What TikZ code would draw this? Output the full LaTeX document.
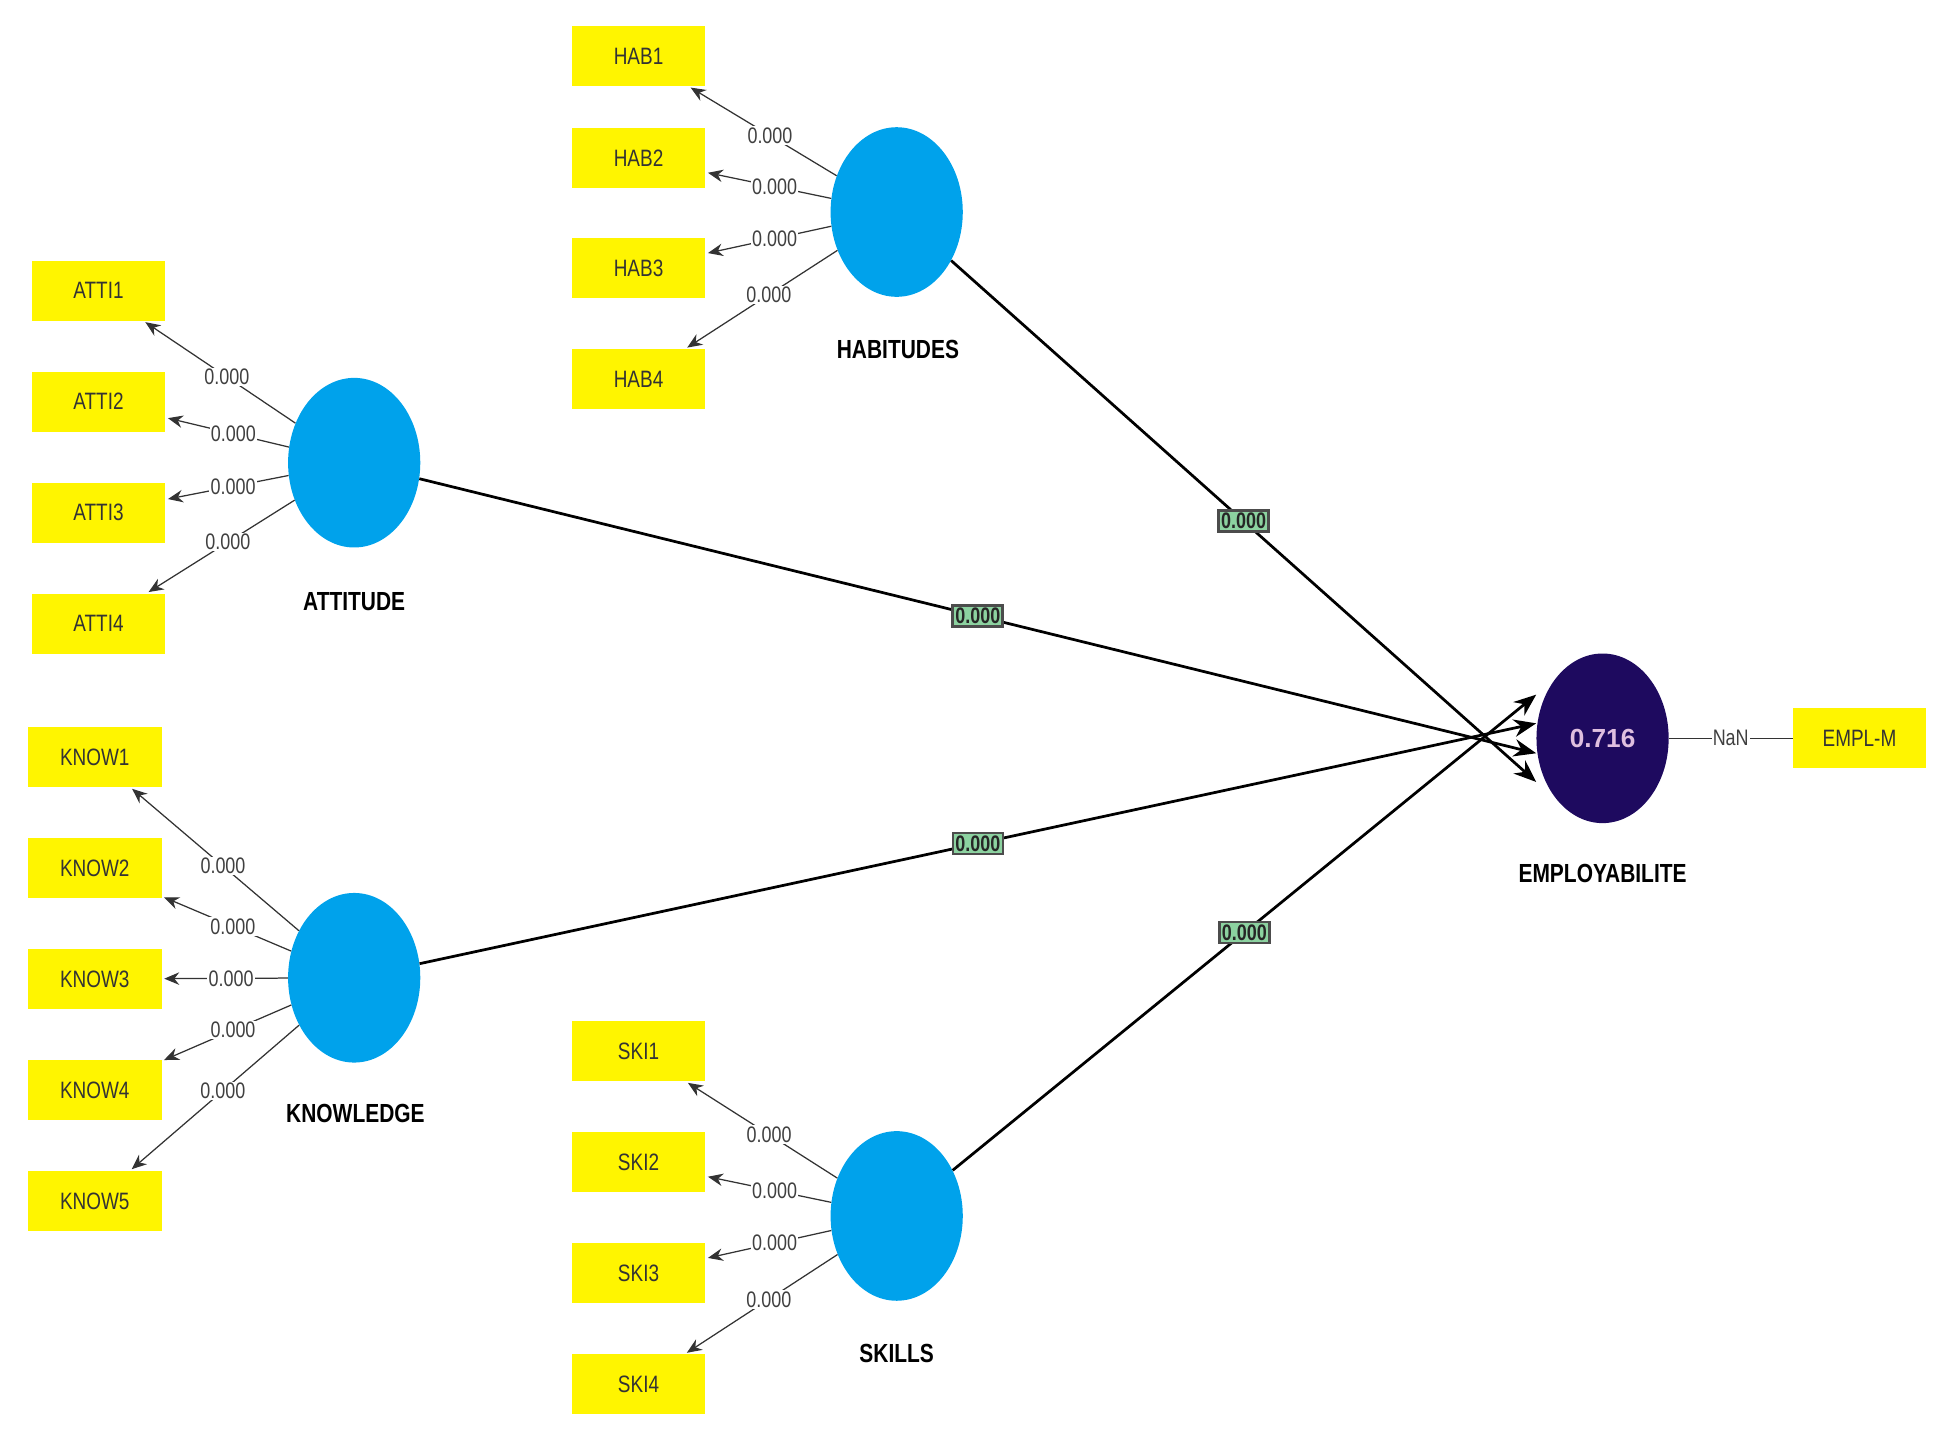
\documentclass[tikz,border=0pt]{standalone}
\usepackage{fontspec}
\setmainfont{Liberation Sans}
\usetikzlibrary{shapes.geometric,arrows.meta}
\definecolor{lv}{RGB}{0,162,235}
\definecolor{navy}{RGB}{30,10,95}
\definecolor{gbox}{RGB}{140,210,160}
\definecolor{yel}{RGB}{255,245,0}
\begin{document}
\begin{tikzpicture}[x=1pt,y=-1pt,
 ind/.style={rectangle,fill=yel,minimum width=107pt,minimum height=48pt,inner sep=0pt,font=\fontsize{19}{20}\selectfont\addfontfeature{FakeStretch=0.8},text=black!80},
 lat/.style={ellipse,fill=lv,minimum width=106pt,minimum height=136pt,inner sep=0pt},
 llab/.style={font=\fontsize{21}{22}\selectfont\bfseries\addfontfeature{FakeStretch=0.8}},
 ld/.style={draw=black!80,line width=1pt,-{Stealth[length=12pt,width=10pt]},shorten >=2pt},
 lv/.style={fill=white,inner sep=1pt,font=\fontsize{18}{19}\selectfont\addfontfeature{FakeStretch=0.8},text=black!75,pos=0.45},
 pd/.style={draw=black,line width=2.2pt,-{Stealth[length=18pt,width=14pt]}},
 pv/.style={draw=black!70,fill=gbox,inner sep=2pt,font=\fontsize{18}{19}\selectfont\bfseries\addfontfeature{FakeStretch=0.8},text=black!85}]
\useasboundingbox (0,0) rectangle (1566,1151);
\node[lat,fill=navy,text=violet!25,font=\fontsize{21}{22}\selectfont\bfseries] (emp) at (1285,592) {0.716};
\node[llab] at (1285,700) {EMPLOYABILITE};
\node[ind] (empm) at (1491,592) {EMPL-M};
\draw[black!80,line width=1pt] (emp) -- node[fill=white,inner sep=1pt,font=\fontsize{18}{19}\selectfont\addfontfeature{FakeStretch=0.8},text=black!75]{NaN} (empm);
\node[lat] (hab) at (719,170) {};
\node[llab] at (720,280) {HABITUDES};
\node[lat] (att) at (284,371) {};
\node[llab] at (284,482) {ATTITUDE};
\node[lat] (kno) at (284,784) {};
\node[llab] at (285,893) {KNOWLEDGE};
\node[lat] (ski) at (719,975) {};
\node[llab] at (719,1085) {SKILLS};
\foreach \i/\y in {1/45,2/127,3/215,4/304}{\node[ind] (hab\i) at (512,\y) {HAB\i};
 \draw[ld] (hab) -- node[lv]{0.000} (hab\i);}
\foreach \i/\y in {1/233,2/322,3/411,4/500}{\node[ind] (att\i) at (79,\y) {ATTI\i};
 \draw[ld] (att) -- node[lv]{0.000} (att\i);}
\foreach \i/\y in {1/607,2/696,3/785,4/874,5/963}{\node[ind] (kno\i) at (76,\y) {KNOW\i};
 \draw[ld] (kno) -- node[lv]{0.000} (kno\i);}
\foreach \i/\y in {1/843,2/932,3/1021,4/1110}{\node[ind] (ski\i) at (512,\y) {SKI\i};
 \draw[ld] (ski) -- node[lv]{0.000} (ski\i);}
\draw[pd] (hab) -- node[pv,pos=0.5]{0.000} ([yshift=-35pt]emp.west);
\draw[pd] (att) -- node[pv,pos=0.5]{0.000} ([yshift=-12pt]emp.west);
\draw[pd] (kno) -- node[pv,pos=0.5]{0.000} ([yshift=12pt]emp.west);
\draw[pd] (ski) -- node[pv,pos=0.5]{0.000} ([yshift=35pt]emp.west);
\end{tikzpicture}
\end{document}
